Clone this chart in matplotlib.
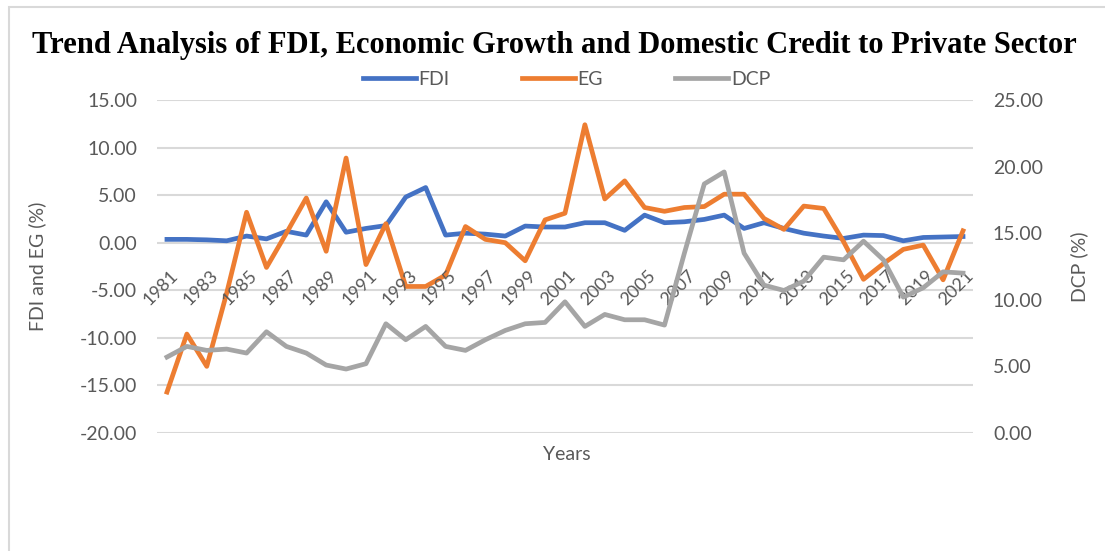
import matplotlib.pyplot as plt
from matplotlib.patches import Rectangle
import numpy as np

years = list(range(1981, 2022))

fdi = [0.35, 0.35, 0.3, 0.2, 0.7, 0.4, 1.2, 0.8, 4.3, 1.1,
       1.5, 1.8, 4.8, 5.8, 0.8, 1.0, 0.9, 0.7, 1.75, 1.65,
       1.65, 2.1, 2.1, 1.3, 2.9, 2.1, 2.2, 2.45, 2.9, 1.5,
       2.1, 1.5, 1.0, 0.7, 0.45, 0.8, 0.75, 0.2, 0.55, 0.6, 0.65]

eg = [-15.7, -9.6, -13.0, -5.3, 3.2, -2.6, 1.0, 4.7, -0.9, 8.9,
      -2.3, 2.0, -4.6, -4.6, -3.4, 1.7, 0.35, 0.0, -1.9, 2.4,
      3.1, 12.4, 4.6, 6.5, 3.7, 3.3, 3.7, 3.8, 5.1, 5.1,
      2.55, 1.4, 3.85, 3.6, 0.1, -3.85, -2.2, -0.7, -0.25, -3.9, 1.25]

dcp = [5.7, 6.5, 6.2, 6.3, 6.0, 7.6, 6.5, 6.0, 5.1, 4.8,
       5.2, 8.2, 7.0, 8.0, 6.5, 6.2, 7.0, 7.7, 8.2, 8.3,
       9.85, 8.0, 8.9, 8.5, 8.5, 8.1, 13.5, 18.7, 19.6, 13.5,
       11.1, 10.7, 11.4, 13.2, 13.0, 14.4, 13.0, 10.2, 10.9, 12.1, 12.0]

label_years = years[::2]

blue = '#4472C4'
orange = '#ED7D31'
gray = '#A5A5A5'
txt = '#595959'
grid = '#D9D9D9'

plt.rcParams['font.family'] = ['Lato', 'DejaVu Sans']

fig = plt.figure(figsize=(11.05, 5.51), dpi=100)
ax = fig.add_axes([0.1421, 0.2142, 0.7384, 0.6043])
ax2 = ax.twinx()

# outer chart border, runs past the right and bottom edges
fig.patches.append(Rectangle((9 / 1105, -0.1), 1.2, 1.1 - 7 / 551,
                             transform=fig.transFigure, fill=False,
                             edgecolor=grid, linewidth=1.5))

l1, = ax.plot(years, fdi, color=blue, lw=3.4, label='FDI', solid_joinstyle='round')
l2, = ax.plot(years, eg, color=orange, lw=3.4, label='EG', solid_joinstyle='round')
l3, = ax2.plot(years, dcp, color=gray, lw=3.4, label='DCP', solid_joinstyle='round')

ax.set_xlim(1980.5, 2021.5)
ax.set_ylim(-20, 15)
ax2.set_ylim(0, 25)
ax.set_yticks(np.arange(-20, 16, 5))
ax2.set_yticks(np.arange(0, 26, 5))
ax.set_yticklabels(['%.2f' % v for v in np.arange(-20, 16, 5)])
ax2.set_yticklabels(['%.2f' % v for v in np.arange(0, 26, 5)])
ax.grid(axis='y', color=grid, lw=1.5)
ax.set_axisbelow(True)
ax.set_xticks([])

for a in (ax, ax2):
    for s in a.spines.values():
        s.set_visible(False)
    a.tick_params(length=0, labelsize=14, labelcolor=txt, pad=14.4)

# year labels sit under the zero line of the left axis
for y in label_years:
    ax.annotate(str(y), xy=(y, 0), xytext=(6, -22), textcoords='offset points',
                rotation=45, rotation_mode='anchor', ha='right', va='center',
                fontsize=13, color=txt)

ax.set_ylabel('FDI and EG (%)', fontsize=14, color=txt)
ax2.set_ylabel('DCP (%)', fontsize=14, color=txt)
ax.yaxis.set_label_coords(-0.136, 0.5)
ax2.yaxis.set_label_coords(1.119, 0.5)
fig.text(0.513, 0.176, 'Years', ha='center', va='center', fontsize=14, color=txt)

fig.text(0.502, 0.918, 'Trend Analysis of FDI, Economic Growth and Domestic Credit to Private Sector',
         ha='center', va='center', fontsize=22, fontweight='bold',
         family='Liberation Serif', color='black')

fig.legend(handles=[l1, l2, l3], loc='center', bbox_to_anchor=(0.5127, 0.8566),
           ncol=3, frameon=False, fontsize=14, labelcolor=txt,
           handlelength=2.73, columnspacing=3.7, handletextpad=0.15)

fig.savefig('out.png', dpi=100, facecolor='white')
